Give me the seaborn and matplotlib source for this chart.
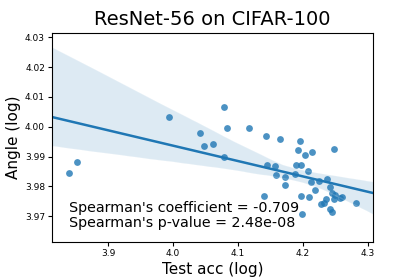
import numpy as np
import pandas as pd
import matplotlib
matplotlib.use("Agg")
import matplotlib.pyplot as plt
import seaborn as sns

# test accuracy (log) and angle (log)
test_acc = [3.840, 3.852, 3.994, 4.042, 4.047, 4.062, 4.079, 4.083, 4.079, 4.117,
            4.143, 4.165, 4.196, 4.193, 4.203, 4.214, 4.248, 4.145, 4.157, 4.189,
            4.197, 4.208, 4.158, 4.172, 4.173, 4.187, 4.212, 4.224, 4.237, 4.218,
            4.242, 4.244, 4.140, 4.197, 4.209, 4.236, 4.247, 4.257, 4.260, 4.282,
            4.228, 4.232, 4.242, 4.244, 4.199, 4.249]
angle = [3.9846, 3.9880, 4.0034, 3.9980, 3.9937, 3.9942, 4.0066, 3.9996, 3.9900, 3.9996,
         3.9968, 3.9958, 3.9951, 3.9922, 3.9906, 3.9916, 3.9927, 3.9870, 3.9867, 3.9872,
         3.9873, 3.9853, 3.9837, 3.9832, 3.9806, 3.9841, 3.9813, 3.9819, 3.9824, 3.9788,
         3.9799, 3.9779, 3.9769, 3.9769, 3.9764, 3.9756, 3.9758, 3.9762, 3.9763, 3.9743,
         3.9739, 3.9744, 3.9725, 3.9714, 3.9706, 3.9771]

x_ticks = [3.9, 4.0, 4.1, 4.2, 4.3]
y_ticks = [3.97, 3.98, 3.99, 4.00, 4.01, 4.02, 4.03]
spearman_r = "-0.709"
spearman_p = "2.48e-08"

df = pd.DataFrame({"Test acc (log)": test_acc, "Angle (log)": angle})

sns.set_style("white", {"text.color": "black", "axes.labelcolor": "black",
                        "xtick.color": "black", "ytick.color": "black",
                        "axes.edgecolor": "black"})
fig = plt.figure(figsize=(4.15, 2.77), dpi=100)
ax = fig.add_axes([0.1253, 0.1264, 0.7735, 0.7545])

ax.set_xlim(3.8138, 4.3077)
ax.set_ylim(3.9613, 4.0315)
sns.regplot(data=df, x="Test acc (log)", y="Angle (log)", ax=ax, truncate=False,
            scatter_kws={"s": 24, "linewidths": 0}, line_kws={"lw": 1.8})
ax.set_xlim(3.8138, 4.3077)
ax.set_ylim(3.9613, 4.0315)

ax.set_xticks(x_ticks)
ax.set_yticks(y_ticks)
ax.tick_params(axis="both", labelsize=6.5, length=3, width=0.8, direction="out",
               bottom=True, left=True, pad=2)
for s in ax.spines.values():
    s.set_linewidth(0.8)

ax.set_title("ResNet-56 on CIFAR-100", fontsize=14, pad=6)
ax.set_xlabel("Test acc (log)", fontsize=11, labelpad=3)
ax.set_ylabel("Angle (log)", fontsize=11, labelpad=3)

ax.text(0.053, 0.055, f"Spearman's coefficient = {spearman_r}\nSpearman's p-value = {spearman_p}",
        transform=ax.transAxes, fontsize=10.3, linespacing=1.15, va="bottom", ha="left")

fig.savefig("out.png", dpi=100)
